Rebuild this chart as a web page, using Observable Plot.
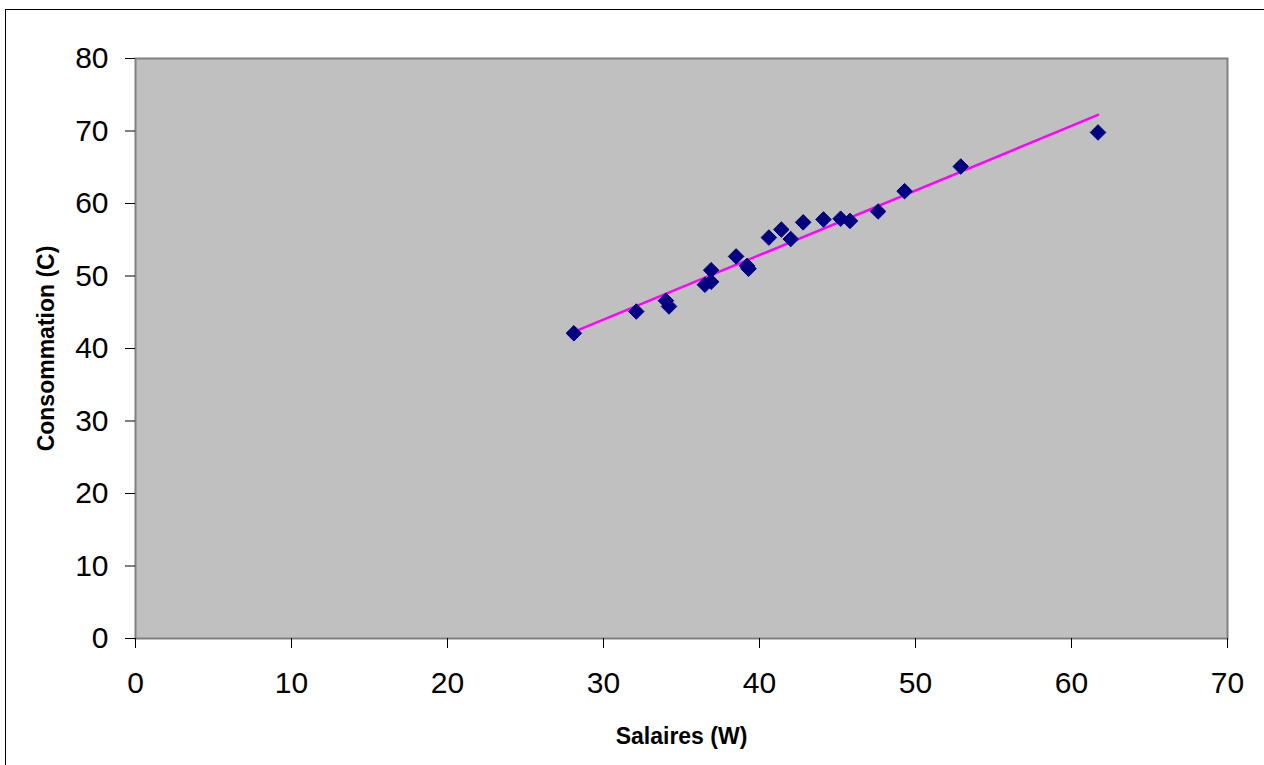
<!DOCTYPE html>
<html>
<head>
<meta charset="utf-8">
<script src="https://cdn.jsdelivr.net/npm/d3@7"></script>
<script src="https://cdn.jsdelivr.net/npm/@observablehq/plot@0.6"></script>
<style>
  html, body { margin: 0; padding: 0; background: #fff; overflow: hidden; }
  #wrap { position: relative; width: 1264px; height: 765px; }
  #border { position: absolute; left: 5px; top: 9px; width: 1300px; height: 800px; border: 1px solid #000; box-sizing: border-box; }
  #chart { position: absolute; left: 0; top: 0; }
</style>
</head>
<body>
<div id="wrap"><div id="border"></div><div id="chart"></div></div>
<script>
const salaires = [28.1, 32.1, 34.0, 34.2, 36.5, 36.9, 36.9, 38.5, 39.2, 39.3, 40.6, 41.4, 42.0, 42.8, 44.1, 45.2, 45.8, 47.6, 49.3, 52.9, 61.7];
const consommation = [42.1, 45.1, 46.6, 45.8, 48.8, 49.2, 50.8, 52.7, 51.4, 51.0, 55.3, 56.4, 55.1, 57.4, 57.8, 57.9, 57.6, 58.9, 61.7, 65.1, 69.8];
const xTicks = [0, 10, 20, 30, 40, 50, 60, 70];
const yTicks = [0, 10, 20, 30, 40, 50, 60, 70, 80];

const data = salaires.map((w, i) => ({W: w, C: consommation[i]}));

const chart = Plot.plot({
  width: 1264,
  height: 765,
  marginLeft: 135,
  marginRight: 37,
  marginTop: 58,
  marginBottom: 127,
  style: {fontFamily: "'Liberation Sans', Arial, sans-serif", background: "transparent", color: "#000"},
  x: {domain: [0, 70]},
  y: {domain: [0, 80]},
  marks: [
    Plot.frame({fill: "#c0c0c0", stroke: "#808080", strokeWidth: 2}),
    Plot.axisX({ticks: xTicks, tickSize: 10, tickPadding: 23, fontSize: 30, stroke: "#000",
      label: "Salaires (W)", labelAnchor: "center", labelArrow: "none", labelOffset: 105}),
    Plot.axisY({ticks: yTicks, tickSize: 10, tickPadding: 17, fontSize: 30, stroke: "#000",
      label: "Consommation (C)", labelAnchor: "center", labelArrow: "none", labelOffset: 98}),
    Plot.linearRegressionY(data, {x: "W", y: "C", stroke: "#ff00ff", strokeWidth: 2.5, ci: 0}),
    Plot.dot(data, {x: "W", y: "C", symbol: "diamond2", r: 7, fill: "#000080", stroke: "#000080", strokeWidth: 1})
  ]
});
document.getElementById("chart").appendChild(chart);
// bold axis titles
chart.querySelectorAll("g[aria-label='x-axis label'] text, g[aria-label='y-axis label'] text").forEach(t => {
  t.setAttribute("font-weight", "bold");
  t.setAttribute("font-size", "23");
});
</script>
</body>
</html>
